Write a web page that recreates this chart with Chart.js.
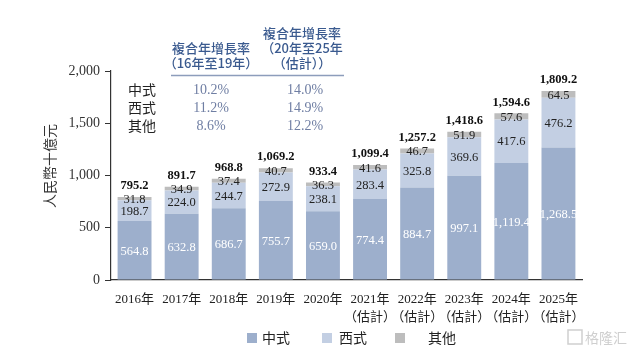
<!DOCTYPE html>
<html><head><meta charset="utf-8">
<script src="https://cdn.jsdelivr.net/npm/chart.js@4/dist/chart.umd.min.js"></script>
<style>html,body{margin:0;padding:0;background:#fff}#wrap{width:641px;height:355px;position:relative}</style>
</head><body><div id="wrap"><canvas id="c" width="641" height="355"></canvas></div>
<script>
const categories = [['2016年'],['2017年'],['2018年'],['2019年'],['2020年'],['2021年','（估計）'],['2022年','（估計）'],['2023年','（估計）'],['2024年','（估計）'],['2025年','（估計）']];
const chinese = [564.8,632.8,686.7,755.7,659.0,774.4,884.7,997.1,1119.4,1268.5];
const western = [198.7,224.0,244.7,272.9,238.1,283.4,325.8,369.6,417.6,476.2];
const others = [31.8,34.9,37.4,40.7,36.3,41.6,46.7,51.9,57.6,64.5];
const totals = [795.2,891.7,968.8,1069.2,933.4,1099.4,1257.2,1418.6,1594.6,1809.2];
const seriesNames = ['中式','西式','其他'];
const cagrRows = [['中式','10.2%','14.0%'],['西式','11.2%','14.9%'],['其他','8.6%','12.2%']];
const yTicks = [0,500,1000,1500,2000];

const COLORS = ['#9dafcc','#c3cfe3','#bdbdbd'];
const SERIF = '"Liberation Serif","Times New Roman","Noto Sans CJK TC",serif';
const CJK = '"Noto Sans CJK TC","Noto Sans CJK SC",sans-serif';
const fmt = v => v.toLocaleString('en-US',{minimumFractionDigits:1,maximumFractionDigits:1});

const overlay = {
  id:'overlay',
  afterDatasetsDraw(chart){
    const ctx = chart.ctx;
    ctx.save();
    ctx.textAlign='center'; ctx.textBaseline='middle';
    const data=[chinese,western,others];
    for(let d=0; d<3; d++){
      const meta=chart.getDatasetMeta(d);
      meta.data.forEach((el,i)=>{
        const cy=(el.y+el.base)/2;
        ctx.font='12.5px '+SERIF;
        ctx.fillStyle = d===0 ? '#ffffff' : '#222';
        ctx.fillText(fmt(data[d][i]), el.x, cy+1);
      });
    }
    const top=chart.getDatasetMeta(2);
    top.data.forEach((el,i)=>{
      ctx.font='bold 12.5px '+SERIF;
      ctx.fillStyle='#111';
      ctx.fillText(fmt(totals[i]), el.x, el.y-11);
    });
    ctx.restore();
  },
  afterDraw(chart){
    const ctx=chart.ctx;
    ctx.save();
    ctx.translate(50,166); ctx.rotate(-Math.PI/2);
    ctx.font='14px '+CJK; ctx.fillStyle='#333'; ctx.textAlign='center'; ctx.textBaseline='middle';
    ctx.fillText('人民幣十億元',0,0);
    ctx.restore();
    ctx.save();
    ctx.font='500 13px '+CJK; ctx.fillStyle='#3a5a8f'; ctx.textAlign='center'; ctx.textBaseline='middle';
    ctx.fillText('複合年增長率',211,48);
    ctx.fillText('（16年至19年）',211,63);
    ctx.fillText('複合年增長率',302,33);
    ctx.fillText('（20年至25年',302,48);
    ctx.fillText('（估計））',302,63);
    ctx.strokeStyle='#8d9dbb'; ctx.lineWidth=1.5;
    ctx.beginPath(); ctx.moveTo(171,75.5); ctx.lineTo(344,75.5); ctx.stroke();
    const rowY=[90,108,126];
    cagrRows.forEach((r,i)=>{
      ctx.font='14px '+CJK; ctx.fillStyle='#222';
      ctx.fillText(r[0],142,rowY[i]);
      ctx.font='14px '+SERIF; ctx.fillStyle='#6f7ea3';
      ctx.fillText(r[1],211,rowY[i]);
      ctx.fillText(r[2],305,rowY[i]);
    });
    const lx=[[247,262],[322,339],[395,428]];
    seriesNames.forEach((n,i)=>{
      ctx.fillStyle=COLORS[i];
      ctx.fillRect(lx[i][0],333,10,10);
      ctx.font='14px '+CJK; ctx.fillStyle='#222'; ctx.textAlign='left';
      ctx.fillText(n,lx[i][1],338);
    });
    ctx.strokeStyle='#cfcfcf'; ctx.lineWidth=1.5;
    ctx.strokeRect(568,330,14,14);
    ctx.font='14px '+CJK; ctx.fillStyle='#cfcfcf'; ctx.textAlign='left';
    ctx.fillText('格隆汇',585,338);
    ctx.restore();
  }
};

new Chart(document.getElementById('c'),{
  type:'bar',
  data:{
    labels:categories,
    datasets:[
      {label:seriesNames[0],data:chinese,backgroundColor:COLORS[0]},
      {label:seriesNames[1],data:western,backgroundColor:COLORS[1]},
      {label:seriesNames[2],data:others,backgroundColor:COLORS[2]}
    ]
  },
  options:{
    responsive:false,animation:false,
    layout:{padding:{top:71,right:59,left:0,bottom:0}},
    datasets:{bar:{barPercentage:0.72,categoryPercentage:1,borderWidth:0}},
    plugins:{legend:{display:false},tooltip:{enabled:false}},
    scales:{
      x:{stacked:true,
        grid:{display:false},
        border:{display:true,color:'#333',width:1.2},
        ticks:{color:'#222',padding:2,font:{family:SERIF,size:13,lineHeight:1.4},maxRotation:0,autoSkip:false},
        afterFit(s){s.height=75;}
      },
      y:{stacked:true,min:0,max:2000,
        afterBuildTicks(s){s.ticks=yTicks.map(v=>({value:v}));},
        grid:{drawOnChartArea:false,drawTicks:true,tickLength:6,color:'#333'},
        border:{display:true,color:'#333',width:1.2},
        ticks:{color:'#333',padding:5,font:{family:SERIF,size:14},callback:v=>v.toLocaleString('en-US')},
        afterFit(s){s.width=111;}
      }
    }
  },
  plugins:[overlay]
});
</script></body></html>
